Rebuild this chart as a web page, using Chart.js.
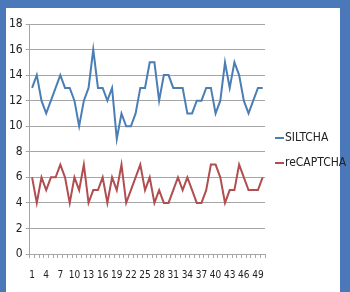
<!DOCTYPE html>
<html>
<head>
<meta charset="utf-8">
<script src="https://cdn.jsdelivr.net/npm/chart.js@4.4.1/dist/chart.umd.min.js"></script>
<style>
	html, body { margin: 0; padding: 0; background: #fff; }
	#frame {
		position: relative;
		width: 350px;
		height: 292px;
		box-sizing: border-box;
		border-top: 8px solid #4a78b8;
		border-left: 6px solid #4a78b8;
		border-right: 10px solid #4a78b8;
		background: #fff;
	}
	#wrap { position: absolute; left: 0; top: 0; width: 334px; height: 284px; }
	.legend-item {
		position: absolute;
		left: 269px;
		font-family: 'DejaVu Sans', sans-serif;
		font-stretch: condensed;
		font-size: 12px;
		color: #222;
		line-height: 14px;
		white-space: nowrap;
	}
	.legend-item span {
		display: inline-block;
		width: 9px;
		height: 2px;
		margin-right: 1px;
		vertical-align: middle;
	}
</style>
</head>
<body>
<div id="frame">
	<div id="wrap"><canvas id="canvasChart"></canvas></div>
	<div id="legend"></div>
</div>
<script>
"use strict";

// run numbers 1..50
var categories = ['1','2','3','4','5','6','7','8','9','10','11','12','13','14','15','16','17','18','19','20',
	'21','22','23','24','25','26','27','28','29','30','31','32','33','34','35','36','37','38','39','40',
	'41','42','43','44','45','46','47','48','49','50'];

var siltchaValues = [13,14,12,11,12,13,14,13,13,12,10,12,13,16,13,13,12,13,9,11,
	10,10,11,13,13,15,15,12,14,14,13,13,13,11,11,12,12,13,13,11,
	12,15,13,15,14,12,11,12,13,13];

var recaptchaValues = [6,4,6,5,6,6,7,6,4,6,5,7,4,5,5,6,4,6,5,7,
	4,5,6,7,5,6,4,5,4,4,5,6,5,6,5,4,4,5,7,7,
	6,4,5,5,7,6,5,5,5,6];

var yTicks = [0,2,4,6,8,10,12,14,16,18];

var seriesNames = ['SILTCHA', 'reCAPTCHA'];
var seriesColors = ['#4a7eb4', '#b04e50'];

// weight carries the stretch keyword so the canvas picks the condensed face
var xTickFont = { family: "'DejaVu Sans', sans-serif", size: 10, weight: 'normal condensed' };
var yTickFont = { family: "'DejaVu Sans', sans-serif", size: 12, weight: 'normal condensed' };

const context = document.getElementById('canvasChart');
const myChart = new Chart(context, {
	type: 'line',
	data: {
		labels: categories,
		datasets: [{
			label: seriesNames[0],
			data: siltchaValues,
			borderColor: seriesColors[0],
			borderWidth: 2,
			pointRadius: 0,
			tension: 0
		}, {
			label: seriesNames[1],
			data: recaptchaValues,
			borderColor: seriesColors[1],
			borderWidth: 2,
			pointRadius: 0,
			tension: 0
		}]
	},
	options: {
		responsive: true,
		maintainAspectRatio: false,
		animation: false,
		layout: { padding: { top: 16, left: 0, right: 75, bottom: 0 } },
		plugins: {
			tooltip: { enabled: false },
			legend: { display: false }
		},
		scales: {
			x: {
				offset: true,
				grid: {
					offset: true,
					drawOnChartArea: false,
					drawTicks: true,
					tickLength: 4,
					color: '#a6a6a6'
				},
				border: { color: '#a6a6a6' },
				ticks: {
					autoSkip: false,
					maxRotation: 0,
					color: '#222',
					padding: 11,
					font: xTickFont,
					callback: function (value, index) {
						return index % 3 === 0 ? categories[index] : '';
					}
				}
			},
			y: {
				min: 0,
				max: 18,
				afterBuildTicks: function (axis) {
					axis.ticks = yTicks.map(function (v) { return { value: v }; });
				},
				grid: { color: '#a6a6a6', tickLength: 4 },
				border: { color: '#a6a6a6' },
				ticks: {
					color: '#222',
					padding: 3,
					font: yTickFont
				}
			}
		}
	}
});

// legend as html, placed beside the plot
var legendTops = [122, 147];
var legendBox = document.getElementById('legend');
seriesNames.forEach(function (name, i) {
	var item = document.createElement('div');
	item.className = 'legend-item';
	item.style.top = legendTops[i] + 'px';
	item.innerHTML = `<span style="background:${seriesColors[i]}"></span>${name}`;
	legendBox.appendChild(item);
});
</script>
</body>
</html>
